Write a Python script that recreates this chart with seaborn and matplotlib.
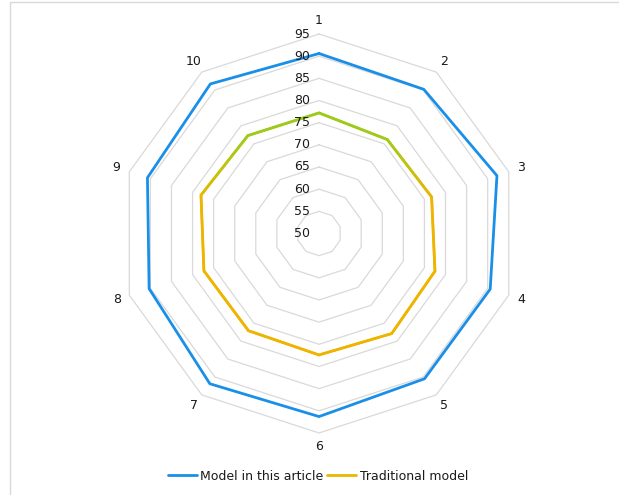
import numpy as np
import pandas as pd
import seaborn as sns
import matplotlib.pyplot as plt
from matplotlib.lines import Line2D
from matplotlib.collections import LineCollection
from matplotlib import transforms as mtransforms
from matplotlib.colors import LinearSegmentedColormap

sns.set_theme(style="white")
plt.rcParams['font.family'] = ['DejaVu Sans']

# ---- data ----
categories = ["1", "2", "3", "4", "5", "6", "7", "8", "9", "10"]
model_values = [90.6, 90.2, 92.2, 90.6, 90.5, 91.3, 91.9, 90.3, 90.7, 91.7]
traditional_values = [77.2, 76.2, 76.7, 77.5, 77.9, 77.4, 77.1, 77.3, 78.0, 77.3]
r_ticks = [50, 55, 60, 65, 70, 75, 80, 85, 90, 95]
series_names = ["Model in this article", "Traditional model"]

BLUE = "#1a8fe8"
ORANGE = "#efb400"
GREEN = "#9ccb1c"
GRID = "#d9d9d9"
TEXT = "#1a1a1a"
FS = 9
LW = 2.0

n = len(categories)
theta = np.linspace(0, 2 * np.pi, n, endpoint=False)
theta_closed = np.append(theta, 2 * np.pi)

fig = plt.figure(figsize=(6.19, 4.95), dpi=100)
ax = fig.add_axes([0.1931, 0.1253, 0.6446, 0.806], projection="polar")
ax.set_theta_zero_location("N")
ax.set_theta_direction(-1)
ax.set_ylim(r_ticks[0], r_ticks[-1])
ax.grid(False)
ax.spines["polar"].set_visible(False)
ax.set_xticks([])
ax.set_yticks([])

# decagon gridlines
for v in r_ticks[1:]:
    ax.plot(theta_closed, [v] * (n + 1), color=GRID, lw=0.9, zorder=1, clip_on=False)

# radial value labels along the first spoke
label_tr = mtransforms.offset_copy(ax.transData, fig=fig, x=-9, y=0, units="dots")
for v in r_ticks:
    ax.text(0, v, str(v), transform=label_tr, ha="right", va="center",
            fontsize=FS, color=TEXT, zorder=5)

# category labels
label_r = r_ticks[-1] + 3.0
for t, c in zip(theta, categories):
    ax.text(t, label_r, c, ha="center", va="center", fontsize=FS, color=TEXT,
            clip_on=False)

# series
df_model = pd.DataFrame({"theta": theta_closed,
                         "value": model_values + model_values[:1]})
df_trad = pd.DataFrame({"theta": theta_closed,
                        "value": traditional_values + traditional_values[:1]})

sns.lineplot(data=df_model, x="theta", y="value", sort=False, estimator=None,
             color=BLUE, lw=LW, ax=ax, zorder=4)
sns.lineplot(data=df_trad, x="theta", y="value", sort=False, estimator=None,
             color=ORANGE, lw=LW, ax=ax, zorder=3)
trad_line = ax.lines[-1]
ax.set_xlabel("")
ax.set_ylabel("")

# vertical colour gradient on the traditional-model line (green at top, gold below):
# take the plotted outline in pixel space and restroke it as short coloured pieces
fig.canvas.draw()
disp = trad_line.get_transform().transform(trad_line.get_xydata())
y_top, y_bot = disp[:, 1].max(), disp[:, 1].min()
span = y_top - y_bot
cmap = LinearSegmentedColormap.from_list(
    "trad", [(0.0, GREEN), (0.12, "#a4c91a"), (0.26, "#ccc00a"),
             (0.36, ORANGE), (1.0, ORANGE)])
pieces = 40
segs, cols = [], []
for a, b in zip(disp[:-1], disp[1:]):
    ts = np.linspace(0, 1, pieces + 1)
    p = a + (b - a) * ts[:, None]
    for p0, p1 in zip(p[:-1], p[1:]):
        segs.append([p0, p1])
        ymid = 0.5 * (p0[1] + p1[1])
        cols.append(cmap((y_top - ymid) / span))
lc = LineCollection(segs, colors=cols, linewidths=LW, capstyle="round",
                    joinstyle="round", transform=mtransforms.IdentityTransform(),
                    zorder=3)
ax.add_collection(lc, autolim=False)
trad_line.set_visible(False)

# legend
handles = [Line2D([], [], color=BLUE, lw=LW),
           Line2D([], [], color="#e8b800", lw=LW)]
fig.legend(handles, series_names, loc="center",
           bbox_to_anchor=(318 / 619, 1 - 476 / 495), ncol=2, frameon=False,
           handlelength=2.3, columnspacing=0.3, handletextpad=0.3,
           fontsize=FS, labelcolor=TEXT)

# chart-area border
fig.add_artist(Line2D([10 / 619, 1], [1 - 2 / 495] * 2, transform=fig.transFigure,
                      color=GRID, lw=1))
fig.add_artist(Line2D([10 / 619] * 2, [0, 1 - 2 / 495], transform=fig.transFigure,
                      color=GRID, lw=1))

fig.savefig("out.png", dpi=100, facecolor="white")
